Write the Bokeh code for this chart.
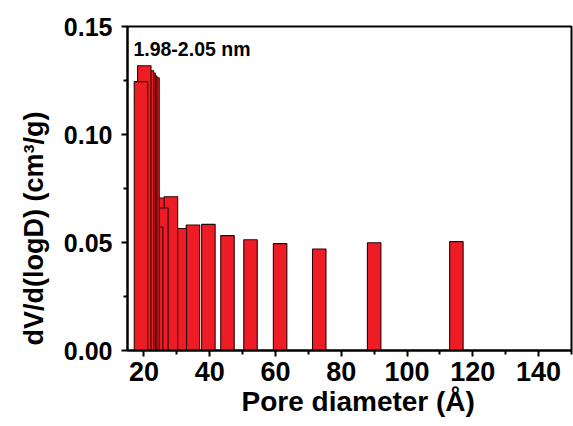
import math
from bokeh.plotting import figure
from bokeh.models import Range1d, Label, FixedTicker, CustomJSTickFormatter, Title
from bokeh.embed import file_html
from bokeh.resources import INLINE

# Pore diameter (Angstrom) and dV/d(logD) values, listed back-to-front (drawing order)
pore_diameter = [115.0, 90.0, 73.3, 61.4, 52.4, 45.4, 39.6, 34.9, 30.9, 24.5, 28.2,
                 25.3, 23.7, 22.6, 21.9, 21.4, 20.9, 20.1, 19.1]
dv_dlogd = [0.0504, 0.0499, 0.0470, 0.0495, 0.0513, 0.0532, 0.0584, 0.0581, 0.0565,
            0.0706, 0.0712, 0.0660, 0.0572, 0.1262, 0.1271, 0.1284, 0.1295, 0.1318, 0.1245]
x_ticks = [20, 40, 60, 80, 100, 120, 140]
y_ticks = [0.00, 0.05, 0.10, 0.15]
y_tick_labels = ["0.00", "0.05", "0.10", "0.15"]
x_title = "Pore diameter (Å)"
y_title = "dV/d(logD) (cm³/g)"
annotation = "1.98-2.05 nm"

FONT = "Liberation Sans"

p = figure(width=573, height=426, output_backend="svg", toolbar_location=None,
           x_range=Range1d(15, 150), y_range=Range1d(0, 0.15),
           frame_width=444, frame_height=324,
           min_border_left=127, min_border_right=2, min_border_top=26, min_border_bottom=76)
p.background_fill_color = "white"
p.border_fill_color = "white"
p.grid.visible = False
p.outline_line_color = "black"
p.outline_line_width = 2

p.vbar(x=pore_diameter, top=dv_dlogd, width=4.1, bottom=0,
       fill_color="#EE1C25", line_color="#2a0808", line_width=1.1)

for ax in (p.xaxis[0], p.yaxis[0]):
    ax.axis_line_width = 2
    ax.major_tick_line_width = 2
    ax.minor_tick_line_width = 2
    ax.major_tick_out = 6
    ax.major_tick_in = 0
    ax.minor_tick_out = 4
    ax.minor_tick_in = 0
    ax.major_label_text_font = FONT
    ax.major_label_text_font_style = "bold"
    ax.major_label_text_color = "black"

p.xaxis.ticker = FixedTicker(ticks=x_ticks, minor_ticks=[30, 50, 70, 90, 110, 130, 150])
p.yaxis.ticker = FixedTicker(ticks=y_ticks, minor_ticks=[0.025, 0.075, 0.125])
p.yaxis.formatter = CustomJSTickFormatter(args=dict(lbls=y_tick_labels, tvals=y_ticks), code="""
    for (let i = 0; i < tvals.length; i++) { if (Math.abs(tick - tvals[i]) < 1e-9) return lbls[i]; }
    return tick.toFixed(2);
""")
p.xaxis.major_label_text_font_size = "27px"
p.yaxis.major_label_text_font_size = "25px"
p.xaxis.major_label_standoff = 5
p.yaxis.major_label_standoff = 9

p.add_layout(Title(text=x_title, align="left", offset=114, standoff=0,
                   text_font=FONT, text_font_style="bold", text_font_size="28px",
                   text_color="black"), "below")

p.add_layout(Title(text=y_title, align="left", offset=5, standoff=19, vertical_align="top",
                   text_font=FONT, text_font_style="bold", text_font_size="27px",
                   text_color="black"), "left")

p.add_layout(Label(x=16.8, y=0.1398, text=annotation, text_align="left",
                   text_baseline="alphabetic", text_font=FONT, text_font_style="bold",
                   text_font_size="19.5px", text_color="black"))

open("out.html", "w").write(file_html(p, INLINE))
